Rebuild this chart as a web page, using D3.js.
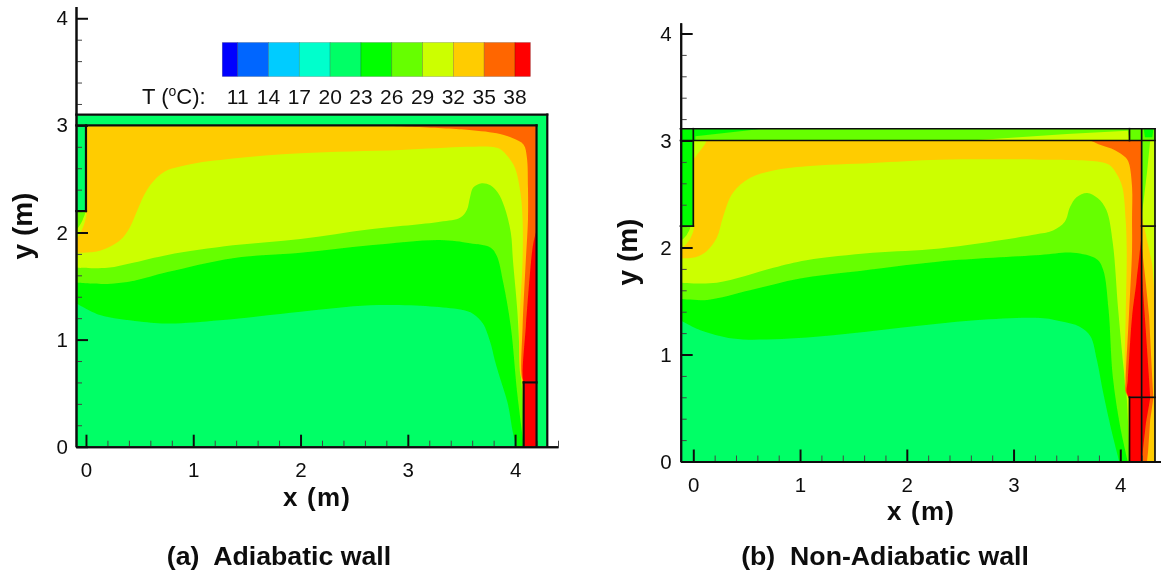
<!DOCTYPE html>
<html>
<head>
<meta charset="utf-8">
<script src="https://cdn.jsdelivr.net/npm/d3@7"></script>
<style>
    body { margin: 0; background: #fff; }
    svg { display: block; }
    text { font-family: "Liberation Sans", Arial, sans-serif; fill: #111; white-space: pre; }
    .bold { font-weight: bold; }
</style>
</head>
<body>
<svg id="chart" width="1161" height="575"></svg>
<script>
// legend
var levels = [11, 14, 17, 20, 23, 26, 29, 32, 35, 38];
var legendEdges = [9.5, 11, 14, 17, 20, 23, 26, 29, 32, 35, 38, 39.5];
var bandColors = ["#0000ff", "#0066ff", "#00ccff", "#00ffcc", "#00ff66", "#00ff00", "#66ff00", "#ccff00", "#ffcc00", "#ff6600", "#ff0000"];

var xMajor = [0, 1, 2, 3, 4];
var yMajor = [0, 1, 2, 3, 4];
var xMinor = [0.2, 0.4, 0.6, 0.8, 1.2, 1.4, 1.6, 1.8, 2.2, 2.4, 2.6, 2.8, 3.2, 3.4, 3.6, 3.8, 4.2, 4.4];
var yMinor = [0.2, 0.4, 0.6, 0.8, 1.2, 1.4, 1.6, 1.8, 2.2, 2.4, 2.6, 2.8, 3.2, 3.4, 3.6, 3.8];

// isotherms of the adiabatic case, [x, y] in metres
var a23 = [[-0.09, 1.34], [0.13, 1.23], [0.5, 1.17], [0.78, 1.15], [1.25, 1.18], [2.0, 1.26], [2.65, 1.32], [3.21, 1.31], [3.49, 1.28], [3.61, 1.24], [3.7, 1.15], [3.77, 0.97], [3.81, 0.81], [3.86, 0.64], [3.93, 0.41], [3.98, 0.13], [4.01, 0]];
var a26 = [[-0.09, 1.53], [0.2, 1.52], [0.45, 1.55], [0.76, 1.63], [1.37, 1.76], [2.0, 1.81], [2.65, 1.88], [3.3, 1.93], [3.58, 1.9], [3.77, 1.86], [3.83, 1.78], [3.89, 1.53], [3.96, 1.12], [4.02, 0.5], [4.07, 0.09], [4.08, 0]];
var a29 = [[-0.09, 1.67], [0.2, 1.67], [0.45, 1.72], [0.76, 1.79], [1.37, 1.88], [2.0, 1.94], [2.65, 2.03], [3.3, 2.1], [3.49, 2.14], [3.55, 2.21], [3.58, 2.33], [3.61, 2.42], [3.69, 2.46], [3.77, 2.44], [3.84, 2.37], [3.9, 2.24], [3.96, 2.0], [3.98, 1.74], [4.02, 1.28], [4.05, 0.72], [4.07, 0.44], [4.08, 0]];
var a32 = [[-0.09, 1.81], [0.13, 1.83], [0.32, 1.93], [0.41, 2.05], [0.48, 2.21], [0.57, 2.4], [0.72, 2.56], [0.94, 2.63], [1.37, 2.69], [2.0, 2.74], [2.93, 2.77], [3.55, 2.8], [3.77, 2.8], [3.86, 2.78], [3.94, 2.7], [4.0, 2.6], [4.05, 2.37], [4.07, 2.12], [4.07, 1.74], [4.04, 1.12], [4.05, 0.67], [4.08, 0.59]];
var a35 = [[2.68, 3.0], [3.55, 2.96], [3.86, 2.92], [3.98, 2.88], [4.08, 2.82], [4.11, 2.7], [4.12, 2.42], [4.12, 2.12], [4.1, 1.74], [4.07, 1.12], [4.06, 0.67], [4.08, 0.59]];
var a38 = [[4.2, 2.02], [4.17, 1.9], [4.15, 1.74], [4.1, 1.12], [4.07, 0.67], [4.08, 0.59]];
var aJetLime = [[-0.09, 2.2], [0.0, 2.2], [-0.01, 2.1], [-0.05, 2.0], [-0.09, 1.93]];
var aJetGreen = [[-0.09, 2.2], [-0.01, 2.2], [-0.03, 2.12], [-0.09, 2.02]];

// isotherms of the non-adiabatic case
var b23 = [[-0.12, 1.32], [0.06, 1.23], [0.37, 1.15], [0.69, 1.14], [1.31, 1.18], [1.94, 1.25], [2.64, 1.32], [3.25, 1.34], [3.44, 1.31], [3.62, 1.26], [3.72, 1.17], [3.78, 0.95], [3.84, 0.64], [3.91, 0.32], [3.99, 0]];
var b26 = [[-0.12, 1.52], [0.13, 1.51], [0.53, 1.6], [1.0, 1.71], [1.47, 1.77], [2.31, 1.87], [3.25, 1.93], [3.56, 1.95], [3.78, 1.89], [3.84, 1.79], [3.89, 1.42], [3.93, 0.79], [4.0, 0.32], [4.07, 0]];
var b29 = [[-0.12, 1.67], [0.22, 1.67], [0.75, 1.81], [1.06, 1.88], [1.68, 1.95], [2.31, 1.99], [3.25, 2.13], [3.37, 2.16], [3.48, 2.24], [3.53, 2.38], [3.59, 2.47], [3.69, 2.51], [3.79, 2.46], [3.87, 2.35], [3.93, 2.04], [3.98, 1.42], [4.03, 0.88], [4.06, 0.6], [4.086, 0]];
var b32 = [[-0.12, 1.9], [0.02, 1.91], [0.12, 1.96], [0.22, 2.09], [0.28, 2.29], [0.37, 2.51], [0.53, 2.65], [0.75, 2.72], [1.06, 2.76], [1.68, 2.79], [2.31, 2.82], [3.25, 2.82], [3.81, 2.8], [3.9, 2.77], [3.97, 2.68], [4.02, 2.56], [4.05, 2.26], [4.06, 1.98], [4.05, 1.35], [4.04, 0.81], [4.05, 0.67], [4.086, 0.59]];
var b35 = [[3.72, 3.0], [3.81, 2.96], [3.95, 2.91], [4.05, 2.84], [4.08, 2.79], [4.11, 2.57], [4.11, 2.26], [4.11, 1.98], [4.08, 1.35], [4.05, 0.76], [4.05, 0.65], [4.086, 0.59]];
var b38 = [[4.2, 2.12], [4.15, 1.67], [4.11, 1.35], [4.07, 0.76], [4.06, 0.65], [4.086, 0.59]];
var bJetLime = [[-0.12, 2.2], [0.0, 2.2], [-0.03, 2.08], [-0.12, 1.98]];
var bJetGreen = [[-0.12, 2.2], [-0.03, 2.2], [-0.06, 2.12], [-0.12, 2.06]];
var bCornerLime = [[0, 3], [0.12, 3], [0.03, 2.86], [0, 2.82]];

// solid parts, adiabatic case
var aWallTop = [[-0.09, 3], [4.3, 3], [4.3, 3.1], [-0.09, 3.1]];
var aWallRight = [[4.2, 0], [4.3, 0], [4.3, 3.1], [4.2, 3.1]];
var aDuct = [[-0.09, 2.2], [0, 2.2], [0, 3], [-0.09, 3]];
var aHeater = [[4.08, 0], [4.2, 0], [4.2, 0.6], [4.08, 0.6]];
var aSegments = [[-0.09, 3.1, 4.3, 3.1], [-0.09, 3, 4.2, 3], [0, 3, 0, 2.2], [-0.09, 2.2, 0, 2.2], [4.2, 3, 4.2, 0], [4.3, 3.1, 4.3, 0], [4.08, 0.6, 4.2, 0.6], [4.08, 0.6, 4.08, 0]];

// solid parts, non-adiabatic case
var bWallTop = [[-0.12, 3], [4.325, 3], [4.325, 3.11], [-0.12, 3.11]];
var bWallTopLime = [[2.6, 3], [3.5, 3.06], [4.07, 3.09], [4.086, 3]];
var bWallTopGreen = [[-0.12, 3], [0.02, 3], [0.02, 3.04], [0.65, 3.11], [-0.12, 3.11]];
var bCornerGreen = [[4.23, 3.03], [4.3, 3.03], [4.31, 3.11], [4.22, 3.11]];
var bDuct = [[-0.12, 2.2], [0, 2.2], [0, 3], [-0.12, 3]];
var bWallRight = [[4.2, 0], [4.325, 0], [4.325, 3], [4.2, 3]];
var bRight29 = [[4.2, 3], [4.28, 3], [4.25, 2.7], [4.22, 2.45], [4.2, 2.3]];
var bRight32 = [[4.2, 2.3], [4.25, 2.07], [4.3, 1.84], [4.325, 1.51], [4.325, 0], [4.2, 0]];
var bRight35 = [[4.2, 2.02], [4.24, 1.66], [4.27, 1.35], [4.3, 0.76], [4.31, 0.59], [4.28, 0.39], [4.26, 0.09], [4.25, 0], [4.2, 0]];
var bRight38 = [[4.2, 1.78], [4.23, 1.35], [4.27, 0.76], [4.28, 0.59], [4.24, 0.36], [4.21, 0.09], [4.2, 0]];
var bHeater = [[4.086, 0], [4.2, 0], [4.2, 0.6], [4.086, 0.6]];
var bSegments = [[-0.12, 3.11, 4.325, 3.11], [-0.12, 3, 4.325, 3], [0, 3.11, 0, 2.2], [-0.12, 2.2, 0, 2.2], [4.086, 3.11, 4.086, 3], [4.2, 3.11, 4.2, 0], [4.325, 3.11, 4.325, 0], [4.2, 2.2, 4.325, 2.2], [4.086, 0.6, 4.325, 0.6], [4.086, 0.6, 4.086, 0]];

var GREEN23 = bandColors[4], GREEN26 = bandColors[5], GREEN29 = bandColors[6], LIME = bandColors[7], ORANGE = bandColors[8], DARKORANGE = bandColors[9], RED = bandColors[10];

var svgEl = d3.select("#chart");

var drawPanel = function(p) {
    var x = d3.scaleLinear().domain(p.xDomain).range(p.xRange);
    var y = d3.scaleLinear().domain(p.yDomain).range(p.yRange);

    // the source figure is a slightly soft bitmap
    var blurId = p.id + "-blur";
    svgEl.append("filter").attr("id", blurId)
        .attr("x", "-2%").attr("y", "-2%").attr("width", "104%").attr("height", "104%")
        .append("feGaussianBlur").attr("stdDeviation", p.blur);
    var g = svgEl.append("g").attr("id", p.id).attr("filter", "url(#" + blurId + ")");

    var clipId = p.id + "-clip";
    g.append("clipPath").attr("id", clipId).append("rect")
        .attr("x", x(p.xDomain[0])).attr("y", y(3))
        .attr("width", x(4.2) - x(p.xDomain[0])).attr("height", y(0) - y(3));

    var smooth = d3.line().x(d => x(d[0])).y(d => y(d[1])).curve(d3.curveCatmullRom.alpha(0.5));
    var straight = d3.line().x(d => x(d[0])).y(d => y(d[1]));
    var pt = d => "L" + x(d[0]) + "," + y(d[1]);

    // cavity background, then each band painted over the colder one
    var cavity = g.append("g").attr("clip-path", "url(#" + clipId + ")");
    cavity.append("rect")
        .attr("x", x(p.xDomain[0])).attr("y", y(3))
        .attr("width", x(4.2) - x(p.xDomain[0])).attr("height", y(0) - y(3))
        .attr("fill", GREEN23);

    p.bands.forEach(function(b) {
        var close = [[4.2, 0], [4.2, 3]];
        if (b.pts[0][0] < 0) close.push([p.xDomain[0], 3]);
        cavity.append("path")
            .attr("d", smooth(b.pts) + close.map(pt).join("") + "Z")
            .attr("fill", b.color);
    });
    p.blobs.forEach(function(b) {
        cavity.append("path").attr("d", smooth(b.pts) + "Z").attr("fill", b.color);
    });

    // solids
    p.solids.forEach(function(s) {
        g.append("path").attr("d", straight(s.pts) + "Z").attr("fill", s.color);
    });

    // axes
    var fmt = d3.format("d");
    var xAxisG = g.append("g").attr("transform", "translate(0," + y(0) + ")")
        .call(d3.axisBottom(x).tickValues(xMinor).tickSize(-6).tickSizeOuter(0).tickFormat(""));
    var xMajorG = g.append("g").attr("transform", "translate(0," + y(0) + ")")
        .call(d3.axisBottom(x).tickValues(xMajor).tickSize(-12).tickSizeOuter(0).tickPadding(p.xPad).tickFormat(fmt));
    var yAxisG = g.append("g").attr("transform", "translate(" + x(p.xDomain[0]) + ",0)")
        .call(d3.axisLeft(y).tickValues(yMinor).tickSize(-6).tickSizeOuter(0).tickFormat(""));
    var yMajorG = g.append("g").attr("transform", "translate(" + x(p.xDomain[0]) + ",0)")
        .call(d3.axisLeft(y).tickValues(yMajor).tickSize(-12).tickSizeOuter(0).tickPadding(p.yPad).tickFormat(fmt));
    [xAxisG, xMajorG, yAxisG, yMajorG].forEach(function(a) {
        a.selectAll("text").attr("font-size", 20.5).attr("font-family", null);
        a.select(".domain").attr("stroke", "#111").attr("stroke-width", 2);
    });
    xAxisG.selectAll("line").attr("stroke", "#444").attr("stroke-width", 1);
    yAxisG.selectAll("line").attr("stroke", "#444").attr("stroke-width", 1);
    xMajorG.selectAll("line").attr("stroke", "#111").attr("stroke-width", 2);
    yMajorG.selectAll("line").attr("stroke", "#111").attr("stroke-width", 2);

    // wall outlines sit on top of everything
    g.append("g").selectAll("line")
        .data(p.segments)
        .enter()
        .append("line")
        .attr("x1", d => x(d[0])).attr("y1", d => y(d[1]))
        .attr("x2", d => x(d[2])).attr("y2", d => y(d[3]))
        .attr("stroke", "#111")
        .attr("stroke-width", p.wallWidth)
        .attr("stroke-linecap", "square");

    g.append("text").attr("class", "bold").attr("font-size", 26)
        .attr("letter-spacing", 1.2)
        .attr("text-anchor", "middle")
        .attr("x", p.xTitle[0]).attr("y", p.xTitle[1])
        .text("x (m)");
    g.append("text").attr("class", "bold").attr("font-size", 28)
        .attr("text-anchor", "middle")
        .attr("transform", "translate(" + p.yTitle[0] + "," + p.yTitle[1] + ") rotate(-90)")
        .text("y (m)");
    g.append("text").attr("class", "bold").attr("font-size", 26.7)
        .attr("text-anchor", "middle")
        .attr("x", p.caption[0]).attr("y", p.caption[1])
        .text(p.captionText);
};

drawPanel({
    id: "panelA",
    blur: 0.35,
    xDomain: [-0.093, 4.4], xRange: [76, 558],
    yDomain: [0, 4.11], yRange: [446.7, 6.5],
    xPad: 15.5, yPad: 8, wallWidth: 2.2,
    bands: [
        { pts: a23, color: GREEN26 }, { pts: a26, color: GREEN29 }, { pts: a29, color: LIME },
        { pts: a32, color: ORANGE }, { pts: a35, color: DARKORANGE }, { pts: a38, color: RED }
    ],
    blobs: [{ pts: aJetLime, color: LIME }, { pts: aJetGreen, color: GREEN29 }],
    solids: [
        { pts: aWallTop, color: GREEN23 }, { pts: aWallRight, color: GREEN23 },
        { pts: aDuct, color: GREEN23 }, { pts: aHeater, color: RED }
    ],
    segments: aSegments,
    xTitle: [317, 505.5], yTitle: [32, 226],
    caption: [279, 565], captionText: "(a)  Adiabatic wall"
});

drawPanel({
    id: "panelB",
    blur: 0.55,
    xDomain: [-0.118, 4.4], xRange: [680.7, 1163],
    yDomain: [0, 4.1], yRange: [461.5, 22.8],
    xPad: 15.5, yPad: 9, wallWidth: 1.7,
    bands: [
        { pts: b23, color: GREEN26 }, { pts: b26, color: GREEN29 }, { pts: b29, color: LIME },
        { pts: b32, color: ORANGE }, { pts: b35, color: DARKORANGE }, { pts: b38, color: RED }
    ],
    blobs: [{ pts: bJetLime, color: LIME }, { pts: bJetGreen, color: GREEN29 }, { pts: bCornerLime, color: LIME }],
    solids: [
        { pts: bWallTop, color: GREEN29 }, { pts: bWallTopLime, color: LIME }, { pts: bWallTopGreen, color: GREEN26 },
        { pts: bCornerGreen, color: GREEN26 }, { pts: bDuct, color: GREEN26 },
        { pts: bWallRight, color: LIME }, { pts: bRight29, color: GREEN29 }, { pts: bRight32, color: ORANGE },
        { pts: bRight35, color: DARKORANGE }, { pts: bRight38, color: RED }, { pts: bHeater, color: RED }
    ],
    segments: bSegments,
    xTitle: [921, 520], yTitle: [637, 252],
    caption: [885, 565], captionText: "(b)  Non-Adiabatic wall"
});

// colour bar
var legendX = d3.scaleLinear().domain([11, 38]).range([237.7, 515]);
var legendG = svgEl.append("g").attr("id", "legend");
legendG.selectAll("rect")
    .data(bandColors)
    .enter()
    .append("rect")
    .attr("x", (d, i) => legendX(legendEdges[i]))
    .attr("y", 42.5)
    .attr("width", (d, i) => legendX(legendEdges[i + 1]) - legendX(legendEdges[i]))
    .attr("height", 34)
    .attr("fill", d => d)
    .attr("stroke", "#000")
    .attr("stroke-opacity", 0.25)
    .attr("stroke-width", 0.7);
legendG.selectAll("text.level")
    .data(levels)
    .enter()
    .append("text")
    .attr("class", "level")
    .attr("x", d => legendX(d))
    .attr("y", 104)
    .attr("text-anchor", "middle")
    .attr("font-size", 21)
    .text(d => d);
var tLabel = legendG.append("text").attr("x", 142).attr("y", 104).attr("font-size", 22);
tLabel.append("tspan").text("T (");
tLabel.append("tspan").attr("dy", -8).attr("font-size", 14).text("o");
tLabel.append("tspan").attr("dy", 8).text("C):");
</script>
</body>
</html>
